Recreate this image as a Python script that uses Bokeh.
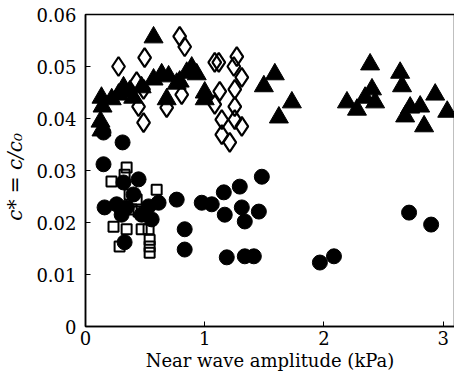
from bokeh.plotting import figure
from bokeh.models import Range1d, FixedTicker
from bokeh.embed import file_html
from bokeh.resources import INLINE

# Triangles (filled)
tri_x = [0.134, 0.143, 0.126, 0.134, 0.277, 0.319, 0.370, 0.471, 0.571, 0.571,
         0.639, 0.697, 0.765, 0.681, 0.849, 0.891, 0.933, 1.000, 1.000, 0.790,
         1.496, 1.588, 1.731, 1.622, 2.387, 2.193, 2.277, 2.345, 2.403, 2.429,
         2.639, 2.655, 2.723, 2.681, 2.807, 2.840, 2.933, 3.034, 0.22, 0.40]
tri_y = [0.0440, 0.0423, 0.0394, 0.0377, 0.0446, 0.0460, 0.0452, 0.0460, 0.0556, 0.0475,
         0.0485, 0.0481, 0.0467, 0.0437, 0.0488, 0.0498, 0.0485, 0.0450, 0.0437, 0.0471,
         0.0462, 0.0485, 0.0431, 0.0402, 0.0504, 0.0431, 0.0417, 0.0440, 0.0456, 0.0431,
         0.0488, 0.0462, 0.0421, 0.0404, 0.0423, 0.0385, 0.0446, 0.0413, 0.0437, 0.0440]

# Diamonds (open)
dia_x = [0.277, 0.496, 0.790, 0.832, 0.429, 0.487, 0.445, 0.487, 0.681, 0.807,
         1.084, 1.118, 1.269, 1.244, 1.311, 1.252, 1.126, 1.084, 1.252, 1.143,
         1.252, 1.311, 1.143, 1.210]
dia_y = [0.0500, 0.0517, 0.0558, 0.0538, 0.0471, 0.0456, 0.0423, 0.0392, 0.0421, 0.0446,
         0.0508, 0.0508, 0.0519, 0.0500, 0.0479, 0.0456, 0.0452, 0.0427, 0.0423, 0.0398,
         0.0398, 0.0385, 0.0369, 0.0354]

# Circles (filled)
cir_x = [0.151, 0.311, 0.151, 0.319, 0.445, 0.160, 0.345, 0.529, 0.613, 0.765,
         0.328, 0.832, 0.832, 0.975, 1.059, 1.160, 1.168, 1.294, 1.311, 1.336,
         1.454, 1.479, 1.185, 1.336, 1.412, 1.966, 2.084, 2.714, 2.899, 0.261,
         0.471, 0.555, 0.403, 0.303]
cir_y = [0.0373, 0.0354, 0.0312, 0.0277, 0.0283, 0.0229, 0.0229, 0.0231, 0.0238, 0.0244,
         0.0162, 0.0187, 0.0148, 0.0238, 0.0235, 0.0258, 0.0215, 0.0269, 0.0229, 0.0202,
         0.0221, 0.0288, 0.0133, 0.0135, 0.0135, 0.0123, 0.0135, 0.0219, 0.0196, 0.0235,
         0.0215, 0.0206, 0.0254, 0.0215]

# Squares (open)
sq_x = [0.345, 0.218, 0.328, 0.597, 0.235, 0.345, 0.471, 0.529, 0.286, 0.538,
        0.538, 0.538, 0.387, 0.445, 0.370, 0.429]
sq_y = [0.0306, 0.0279, 0.0292, 0.0263, 0.0192, 0.0187, 0.0187, 0.0187, 0.0154, 0.0167,
        0.0154, 0.0142, 0.0225, 0.0221, 0.0254, 0.0244]

x_ticks = [0, 1, 2, 3]
y_ticks = [0, 0.01, 0.02, 0.03, 0.04, 0.05, 0.06]
y_tick_labels = ["0", "0.01", "0.02", "0.03", "0.04", "0.05", "0.06"]

FONT = "DejaVu Serif"

p = figure(frame_width=369, frame_height=312, output_backend="svg", toolbar_location=None,
           x_range=Range1d(0, 3.095), y_range=Range1d(0, 0.06),
           min_border_left=83, min_border_top=14, min_border_right=1, min_border_bottom=50)
p.background_fill_color = "white"
p.border_fill_color = "white"
p.grid.visible = False
p.outline_line_color = "black"
p.outline_line_width = 1.5

p.scatter(tri_x, tri_y, marker="triangle", size=19, fill_color="black", line_color="black")
p.scatter(dia_x, dia_y, marker="diamond", size=19, fill_color=None, line_color="black", line_width=2.2)
p.scatter(cir_x, cir_y, marker="circle", size=15, fill_color="black", line_color="black")
p.scatter(sq_x, sq_y, marker="square", size=10, fill_color=None, line_color="black", line_width=2)

for ax in (p.xaxis[0], p.yaxis[0]):
    ax.major_tick_in = 5
    ax.major_tick_out = 0
    ax.minor_tick_in = 0
    ax.minor_tick_out = 0
    ax.axis_line_width = 1.5
    ax.axis_line_color = "black"
    ax.major_tick_line_color = "black"
    ax.major_label_text_color = "black"
    ax.axis_label_text_color = "black"
    ax.major_label_text_font = FONT
    ax.major_label_text_font_size = "18px"
    ax.axis_label_text_font = FONT
    ax.axis_label_text_font_size = "18px"
    ax.axis_label_text_font_style = "normal"

p.xaxis[0].ticker = FixedTicker(ticks=x_ticks)
p.yaxis[0].ticker = FixedTicker(ticks=y_ticks)
p.xaxis[0].major_label_overrides = {t: str(t) for t in x_ticks}
p.yaxis[0].major_label_overrides = dict(zip(y_ticks, y_tick_labels))
p.xaxis[0].axis_label = "Near wave amplitude (kPa)"
p.xaxis[0].axis_label_standoff = 2
p.xaxis[0].major_label_standoff = 4
p.yaxis[0].axis_label = "c*  =  c/c₀"
p.yaxis[0].axis_label_text_font_style = "italic"
p.yaxis[0].axis_label_text_font_size = "20px"
p.yaxis[0].major_label_standoff = 9
p.yaxis[0].axis_label_standoff = 6

out = file_html(p, INLINE)
open("out.html", "w").write(out)
